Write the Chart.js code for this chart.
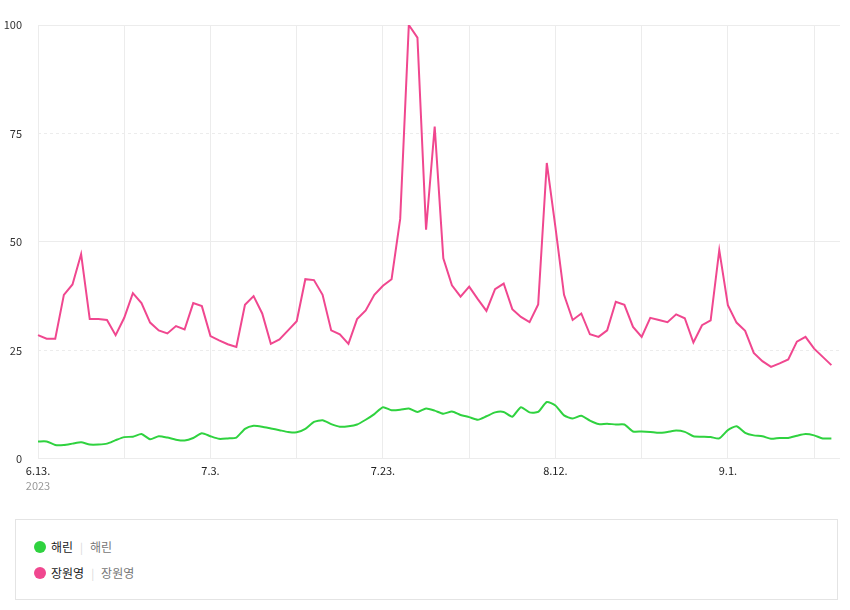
<!DOCTYPE html>
<html>
<head>
<meta charset="utf-8">
<script src="https://cdn.jsdelivr.net/npm/chart.js@4/dist/chart.umd.min.js"></script>
<style>
    body { margin: 0; background: #fff; font-family: "Noto Sans CJK KR", "Noto Sans", sans-serif; }
    .chart-wrap { position: relative; width: 850px; height: 505px; }
    .legend {
        position: absolute; left: 15px; top: 519px; width: 823px; height: 81px;
        border: 1px solid #e4e4e4; box-sizing: border-box;
    }
    .legend-item { position: absolute; left: 18px; display: flex; align-items: center; font-size: 12px; }
    .legend-item .dot { width: 12px; height: 12px; border-radius: 50%; margin-right: 5px; }
    .legend-item .name { color: #222; }
    .legend-item .sep { color: #d8d8d8; margin: 0 7px; font-size: 11px; }
    .legend-item .sub { color: #777; }
</style>
</head>
<body>
<div class="chart-wrap"><canvas id="trendChart"></canvas></div>
<div class="legend" id="legend"></div>

<script>
const startDate = new Date(2023, 5, 13);
const dayCount = 94; // 6.13. ~ 9.14. (last day has no value)

const seriesNames = ['해린', '장원영'];
const seriesColors = ['#2fd23f', '#f0478f'];

const haerin = [
    4.0, 4.0, 3.2, 3.2, 3.5, 3.8, 3.3, 3.3, 3.5, 4.3,
    5.0, 5.1, 5.7, 4.5, 5.2, 4.9, 4.4, 4.2, 4.8, 5.9,
    5.2, 4.6, 4.7, 4.9, 6.9, 7.6, 7.4, 7.0, 6.6, 6.2,
    6.1, 6.9, 8.5, 8.9, 8.0, 7.4, 7.5, 7.9, 9.0, 10.3,
    11.9, 11.2, 11.3, 11.6, 10.8, 11.6, 11.1, 10.4, 10.9, 10.1,
    9.6, 9.0, 9.8, 10.7, 10.8, 9.7, 11.9, 10.7, 10.8, 13.1,
    12.3, 10.0, 9.3, 9.9, 8.8, 8.0, 8.1, 7.9, 7.9, 6.3,
    6.3, 6.2, 6.0, 6.2, 6.5, 6.2, 5.2, 5.1, 5.0, 4.7,
    6.6, 7.5, 6.0, 5.4, 5.2, 4.6, 4.8, 4.8, 5.3, 5.7,
    5.4, 4.7, 4.7
];

const jangWonyoung = [
    28.5, 27.7, 27.7, 37.8, 40.2, 47.2, 32.2, 32.2, 32.0, 28.5,
    32.5, 38.2, 35.9, 31.4, 29.6, 28.9, 30.6, 29.8, 35.9, 35.2,
    28.3, 27.3, 26.4, 25.8, 35.5, 37.5, 33.5, 26.5, 27.5, 29.6,
    31.7, 41.4, 41.2, 37.8, 29.6, 28.7, 26.5, 32.2, 34.2, 37.8,
    39.9, 41.4, 55.3, 100, 97.1, 52.8, 76.6, 46.2, 40.0, 37.4,
    39.7, 36.8, 34.1, 39.1, 40.4, 34.5, 32.7, 31.5, 35.6, 68.2,
    53.4, 37.8, 32.0, 33.5, 28.7, 28.1, 29.6, 36.2, 35.5, 30.4,
    28.1, 32.5, 32.0, 31.5, 33.3, 32.4, 26.8, 30.8, 31.9, 48.1,
    35.4, 31.4, 29.5, 24.4, 22.5, 21.2, 22.0, 22.9, 27.0, 28.1,
    25.4, 23.5, 21.6
];

const yTicks = [0, 25, 50, 75, 100];
const yearLabel = '2023';

const tickFont = { size: 11, family: '"Noto Sans CJK KR", sans-serif' };

// build "M.D." labels for each day
const dateLabels = [];
for (let i = 0; i < dayCount; i++) {
    const d = new Date(startDate);
    d.setDate(d.getDate() + i);
    dateLabels.push(`${d.getMonth() + 1}.${d.getDate()}.`);
}

// draws the year under the first date label
const yearPlugin = {
    id: 'yearLabel',
    afterDraw(chart) {
        const { ctx, scales } = chart;
        ctx.save();
        ctx.font = `${tickFont.size}px ${tickFont.family}`;
        const x = scales.x.getPixelForValue(0) - ctx.measureText(dateLabels[0]).width / 2;
        ctx.fillStyle = '#999';
        ctx.textAlign = 'left';
        ctx.textBaseline = 'middle';
        ctx.fillText(yearLabel, x, scales.x.top + 27);
        ctx.restore();
    },
};

const ctx = document.getElementById('trendChart').getContext('2d');
new Chart(ctx, {
    type: 'line',
    data: {
        labels: dateLabels,
        datasets: [
            {
                label: seriesNames[0],
                data: haerin,
                borderColor: seriesColors[0],
                borderWidth: 2,
                pointRadius: 0,
                tension: 0.2,
            },
            {
                label: seriesNames[1],
                data: jangWonyoung,
                borderColor: seriesColors[1],
                borderWidth: 2,
                pointRadius: 0,
                tension: 0,
            },
        ],
    },
    options: {
        responsive: true,
        maintainAspectRatio: false,
        animation: false,
        layout: {
            padding: { top: 25, left: 2, right: 10, bottom: 23 },
        },
        plugins: {
            legend: { display: false },
            tooltip: { enabled: false },
        },
        scales: {
            x: {
                ticks: {
                    autoSkip: false,
                    maxRotation: 0,
                    padding: 5,
                    color: '#222',
                    font: tickFont,
                    callback: (value, index) => (index % 20 === 0 ? dateLabels[index] : ''),
                },
                grid: {
                    drawTicks: false,
                    color: (c) => (c.index % 10 === 0 ? '#ececec' : 'transparent'),
                },
                border: { display: false },
            },
            y: {
                min: 0,
                max: 100,
                afterBuildTicks: (axis) => {
                    axis.ticks = yTicks.map((v) => ({ value: v }));
                },
                afterFit: (axis) => {
                    axis.width = 36;
                },
                ticks: {
                    padding: 16,
                    color: '#333',
                    font: tickFont,
                },
                grid: {
                    drawTicks: false,
                    color: '#ececec',
                },
                border: {
                    display: false,
                    dash: (c) => (c.tick && (c.tick.value === 25 || c.tick.value === 75) ? [3, 3] : []),
                },
            },
        },
    },
    plugins: [yearPlugin],
});

// legend below the chart
const legend = document.getElementById('legend');
seriesNames.forEach((name, i) => {
    const item = document.createElement('div');
    item.className = 'legend-item';
    item.style.top = `${18 + i * 26}px`;
    item.innerHTML = `<span class="dot" style="background:${seriesColors[i]}"></span>` +
        `<span class="name">${name}</span><span class="sep">|</span><span class="sub">${name}</span>`;
    legend.appendChild(item);
});
</script>
</body>
</html>
